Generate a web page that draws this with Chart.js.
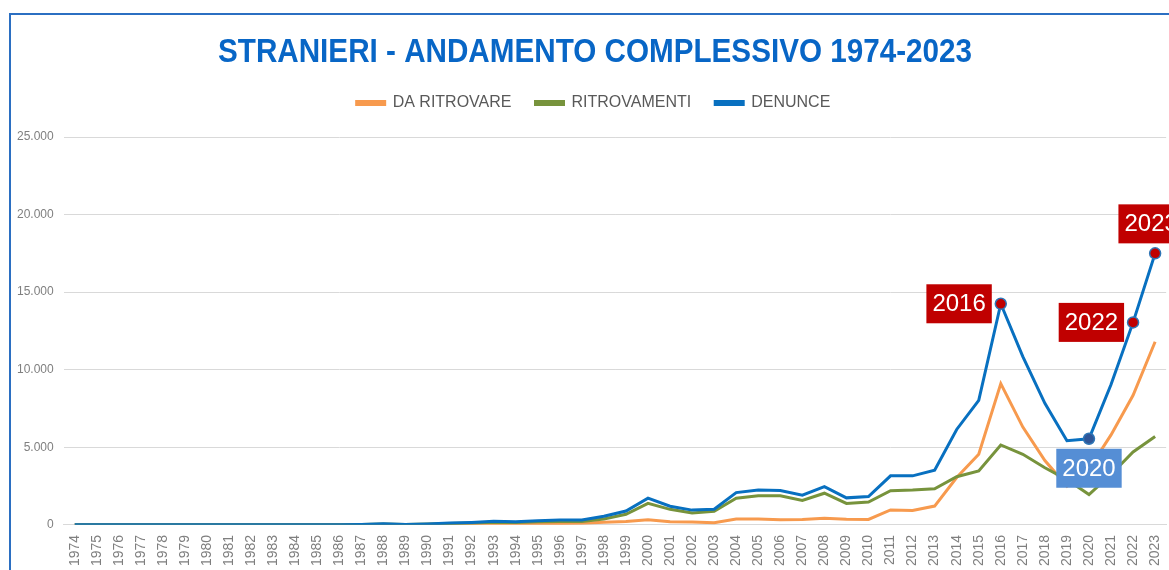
<!DOCTYPE html>
<html>
<head>
    <title>Stranieri 1974-2023</title>
    <script src="https://cdn.jsdelivr.net/npm/chart.js"></script>
    <style>
        body { margin: 0; background: #fff; }
        #wrap { position: relative; width: 1169px; height: 570px; overflow: hidden; }
        #frame { position: absolute; left: 9px; top: 13px; right: -10px; bottom: -10px; border-top: 2px solid #2B6FC2; border-left: 2px solid #2B6FC2; }
        canvas { position: absolute; left: 0; top: 0; }
    </style>
</head>
<body>
    <div id="wrap">
        <div id="frame"></div>
        <canvas id="myChart" width="1182" height="576"></canvas>
    </div>
    <script>
        const years = [];
        for (let y = 1974; y <= 2023; y++) years.push(String(y));

        // values
        const daRitrovare = [
            0, 0, 0, 0, 0, 0, 0, 0, 0, 0, 0, 0, 0,
            5, 15, 5, 10, 25, 35, 55, 50, 70, 90, 100,
            170, 210, 330, 200, 190, 140, 370, 370, 330, 340,
            420, 360, 350, 960, 920, 1210, 3050, 4550, 9100, 6300,
            4150, 2500, 3600, 5800, 8350, 11800
        ];
        const ritrovamenti = [
            0, 0, 0, 0, 0, 0, 0, 0, 0, 0, 0, 0, 0,
            20, 60, 20, 50, 90, 120, 170, 150, 200, 220, 220,
            380, 680, 1390, 1000, 760, 870, 1710, 1880, 1880, 1570,
            2040, 1380, 1470, 2200, 2240, 2320, 3100, 3470, 5150, 4550,
            3680, 2920, 1950, 3250, 4700, 5700
        ];
        const denunce = [
            0, 0, 0, 0, 0, 0, 0, 0, 0, 0, 0, 0, 0,
            25, 75, 25, 60, 115, 155, 225, 200, 270, 310, 320,
            550, 890, 1720, 1200, 950, 1010, 2080, 2250, 2210, 1910,
            2460, 1740, 1820, 3160, 3160, 3530, 6150, 8020, 14250, 10850,
            7830, 5420, 5550, 9050, 13050, 17500
        ];

        // highlighted years on the DENUNCE line
        const callouts = [
            { year: '2016', color: '#C00000', side: 'left' },
            { year: '2020', color: '#558ED5', side: 'below' },
            { year: '2022', color: '#C00000', side: 'left' },
            { year: '2023', color: '#C00000', side: 'above' }
        ];

        const titleText = 'STRANIERI - ANDAMENTO COMPLESSIVO 1974-2023';

        function fmt(v) {
            return String(v).replace(/\B(?=(\d{3})+(?!\d))/g, '.');
        }

        const pointColors = years.map(y => {
            const c = callouts.find(c => c.year === y);
            if (!c) return 'rgba(0,0,0,0)';
            return c.color === '#C00000' ? '#C00000' : '#2F5597';
        });
        const pointRadii = years.map(y => callouts.find(c => c.year === y) ? 5.5 : 0);

        const titlePlugin = {
            id: 'bigTitle',
            beforeInit(chart) {
                // extra room under the legend
                const fit = chart.legend.fit;
                chart.legend.fit = function () {
                    fit.bind(chart.legend)();
                    this.height += 16;
                };
            },
            afterDraw(chart) {
                const ctx = chart.ctx;
                ctx.save();
                ctx.font = 'bold 33px "Liberation Sans", Arial, sans-serif';
                ctx.fillStyle = '#0866C6';
                ctx.textAlign = 'center';
                ctx.textBaseline = 'alphabetic';
                ctx.fillText(titleText, 595, 62, 754);
                ctx.restore();
            }
        };

        const calloutPlugin = {
            id: 'callouts',
            afterDatasetsDraw(chart) {
                const ctx = chart.ctx;
                const xs = chart.scales.x;
                const ys = chart.scales.y;
                ctx.save();
                ctx.font = '24px "Liberation Sans", Arial, sans-serif';
                ctx.textBaseline = 'middle';
                ctx.textAlign = 'center';
                for (const c of callouts) {
                    const i = years.indexOf(c.year);
                    const px = xs.getPixelForValue(i);
                    const py = ys.getPixelForValue(denunce[i]);
                    const w = ctx.measureText(c.year).width + 12;
                    const h = 39;
                    let bx, by;
                    if (c.side === 'left') { bx = px - 9 - w; by = py - h / 2; }
                    else if (c.side === 'below') { bx = px - w / 2; by = py + 10; }
                    else { bx = px - w / 2 - 4; by = py - 10 - h; }
                    ctx.fillStyle = c.color;
                    ctx.fillRect(bx, by, w, h);
                    ctx.fillStyle = '#ffffff';
                    ctx.fillText(c.year, bx + w / 2, by + h / 2 + 1);
                }
                ctx.restore();
            }
        };

        const ctx = document.getElementById('myChart').getContext('2d');
        new Chart(ctx, {
            type: 'line',
            data: {
                labels: years,
                datasets: [
                    {
                        label: 'DA RITROVARE',
                        data: daRitrovare,
                        borderColor: '#F79A4E',
                        backgroundColor: '#F79A4E',
                        borderWidth: 3,
                        pointRadius: 0,
                        tension: 0,
                        order: 2
                    },
                    {
                        label: 'RITROVAMENTI',
                        data: ritrovamenti,
                        borderColor: '#77933C',
                        backgroundColor: '#77933C',
                        borderWidth: 3,
                        pointRadius: 0,
                        tension: 0,
                        order: 1
                    },
                    {
                        label: 'DENUNCE',
                        data: denunce,
                        borderColor: '#0870C0',
                        backgroundColor: '#0870C0',
                        borderWidth: 3,
                        pointRadius: pointRadii,
                        pointBackgroundColor: pointColors,
                        pointBorderColor: '#2E75B6',
                        pointBorderWidth: 1.5,
                        tension: 0,
                        order: 0
                    }
                ]
            },
            options: {
                responsive: false,
                animation: false,
                layout: {
                    padding: { top: 71, left: 7, right: 2, bottom: 0 }
                },
                plugins: {
                    title: { display: false },
                    tooltip: { enabled: false },
                    legend: {
                        position: 'top',
                        labels: {
                            boxWidth: 28,
                            boxHeight: 3,
                            padding: 24,
                            color: '#595959',
                            font: { family: '"Liberation Sans", Arial, sans-serif', size: 16 },
                            sort: (a, b) => a.datasetIndex - b.datasetIndex
                        }
                    }
                },
                scales: {
                    x: {
                        offset: true,
                        grid: { display: false, drawTicks: false },
                        border: { display: true, color: '#D9D9D9' },
                        ticks: {
                            autoSkip: false,
                            maxRotation: 90,
                            minRotation: 90,
                            padding: 10,
                            color: '#7F7F7F',
                            font: { family: '"Liberation Sans", Arial, sans-serif', size: 14 }
                        }
                    },
                    y: {
                        min: 0,
                        max: 25000,
                        grid: { color: '#D9D9D9', drawTicks: false },
                        border: { display: false },
                        ticks: {
                            stepSize: 5000,
                            padding: 10,
                            color: '#7F7F7F',
                            font: { family: '"Liberation Sans", Arial, sans-serif', size: 12 },
                            callback: v => fmt(v)
                        }
                    }
                }
            },
            plugins: [titlePlugin, calloutPlugin]
        });
    </script>
</body>
</html>
